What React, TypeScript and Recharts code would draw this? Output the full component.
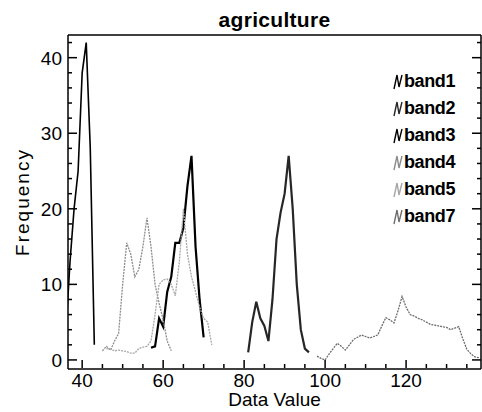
import { Legend, Line, LineChart, XAxis, YAxis } from 'recharts';

const bandNames = ['band1', 'band2', 'band3', 'band4', 'band5', 'band7'];
const bandColors = ['#000000', '#262626', '#000000', '#8c8c8c', '#a6a6a6', '#6e6e6e'];
const bandWidths = [1.6, 2.2, 2.2, 1.3, 1.3, 1.3];

const band1X = [36, 37, 38, 39, 40, 41, 42, 43];
const band1Y = [4, 13, 20, 25, 38, 42, 28, 2];

const band2X = [81, 82, 83, 84, 85, 86, 87, 88, 89, 90, 91, 92, 93, 94, 95, 96];
const band2Y = [1, 5, 7.7, 5.5, 4.5, 2.5, 8, 16, 19.5, 22, 27, 20, 10, 4, 1.5, 1];

const band3X = [57, 58, 59, 60, 61, 62, 63, 64, 65, 66, 67, 68, 69, 70];
const band3Y = [1.6, 1.8, 5.5, 4.4, 9, 11, 15.5, 15.5, 17.5, 23, 27, 15, 8, 3];

const band4X = [45, 46, 47, 48, 49, 50, 51, 52, 53, 54, 55, 56, 57, 58, 59, 60, 61, 62];
const band4Y = [1.2, 1.8, 1.3, 2.5, 3.5, 10, 15.5, 14, 11, 12, 15, 18.8, 15, 10, 7.5, 5.3, 2.5, 1.2];

const band5X = [46, 47, 48, 49, 50, 51, 52, 53, 54, 55, 56, 57, 58, 59, 60, 61, 62, 63, 64, 65, 66, 67, 68, 69, 70, 71, 72];
const band5Y = [1.5, 1.4, 1.2, 1.3, 1.2, 1.1, 0.9, 0.9, 1.5, 1.7, 1.8, 2.5, 6, 10, 10.6, 10.7, 10, 8.5, 13, 20, 14, 11, 9, 7, 5.5, 5, 2];

const band7X = [98, 99, 100, 101, 102, 103, 104, 105, 106, 107, 108, 109, 110, 111, 112, 113, 114, 115, 116, 117, 118, 119, 120, 121, 122, 123, 124, 125, 126, 127, 128, 129, 130, 131, 132, 133, 134, 135, 136, 137, 138];
const band7Y = [0.5, 0.2, 0, 0.8, 1.5, 2.2, 1.8, 1.3, 2, 2.7, 3, 3.3, 3.1, 2.9, 3.1, 3.3, 4.5, 5.6, 5.3, 4.9, 6.5, 8.4, 7, 6, 5.8, 5.5, 5.3, 5, 4.7, 4.6, 4.5, 4.4, 4.3, 4, 4.2, 4.4, 2.8, 1.4, 0.8, 0.4, 0.3];

const xTicks = [40, 45, 50, 55, 60, 65, 70, 75, 80, 85, 90, 95, 100, 105, 110, 115, 120, 125, 130, 135];
const yTicks = [0, 2, 4, 6, 8, 10, 12, 14, 16, 18, 20, 22, 24, 26, 28, 30, 32, 34, 36, 38, 40, 42];

const toPoints = (xs: number[], ys: number[]) => xs.map((x, i) => ({ x, y: ys[i] }));

const series = [
  toPoints(band1X, band1Y),
  toPoints(band2X, band2Y),
  toPoints(band3X, band3Y),
  toPoints(band4X, band4Y),
  toPoints(band5X, band5Y),
  toPoints(band7X, band7Y),
];

const font = "'Liberation Sans', Arial, sans-serif";

function BottomTick({ x, y, payload }: any) {
  const major = payload.value % 20 === 0;
  return (
    <g>
      <line x1={x} y1={y - 1} x2={x} y2={y - 1 - (major ? 8 : 4)} stroke="#000" strokeWidth={1.5} />
      {major && (
        <text x={x} y={y + 18} textAnchor="middle" fontFamily={font} fontSize={19} fill="#000">
          {payload.value}
        </text>
      )}
    </g>
  );
}

function TopTick({ x, payload }: any) {
  const major = payload.value % 20 === 0;
  return <line x1={x} y1={35} x2={x} y2={35 + (major ? 8 : 4)} stroke="#000" strokeWidth={1.5} />;
}

function LeftTick({ y, payload }: any) {
  const major = payload.value % 10 === 0;
  return (
    <g>
      <line x1={68} y1={y} x2={68 + (major ? 9 : 4)} y2={y} stroke="#000" strokeWidth={1.5} />
      {major && (
        <text x={62} y={y + 7} textAnchor="end" fontFamily={font} fontSize={19} fill="#000">
          {payload.value}
        </text>
      )}
    </g>
  );
}

function RightTick({ y, payload }: any) {
  const major = payload.value % 10 === 0;
  return <line x1={481} y1={y} x2={481 - (major ? 9 : 4)} y2={y} stroke="#000" strokeWidth={1.5} />;
}

function LegendIcon({ color }: { color: string }) {
  return (
    <svg width={10} height={16} style={{ display: 'block', marginRight: 1 }}>
      <path d="M1 15 L4 1 L6 13 L9 1" fill="none" stroke={color} strokeWidth={1.4} />
    </svg>
  );
}

function renderLegend() {
  return (
    <div style={{ fontFamily: font }}>
      {bandNames.map((name, i) => (
        <div key={name} style={{ display: 'flex', alignItems: 'center', height: 27 }}>
          <LegendIcon color={bandColors[i]} />
          <span style={{ fontWeight: 'bold', fontSize: 18, letterSpacing: -0.4, color: '#000' }}>{name}</span>
        </div>
      ))}
    </div>
  );
}

export default function App() {
  return (
    <div style={{ position: 'absolute', left: 0, top: 0, background: '#fff' }}>
      <LineChart width={482} height={412} margin={{ top: 34, right: 0, bottom: 42, left: 67 }}>
        <XAxis
          xAxisId="bottom"
          type="number"
          dataKey="x"
          domain={[36.5, 138.5]}
          allowDataOverflow
          ticks={xTicks}
          interval={0}
          height={1}
          tickSize={0}
          tickMargin={0}
          tick={<BottomTick />}
          axisLine={{ stroke: '#000', strokeWidth: 1.5 }}
          label={{
            value: 'Data Value',
            position: 'bottom',
            offset: 23,
            fill: '#000',
            style: { fontFamily: font, fontSize: 19, fill: '#000' },
          }}
        />
        <XAxis
          xAxisId="top"
          orientation="top"
          type="number"
          domain={[36.5, 138.5]}
          allowDataOverflow
          ticks={xTicks}
          interval={0}
          height={1}
          tickSize={0}
          tickMargin={0}
          tick={<TopTick />}
          axisLine={{ stroke: '#000', strokeWidth: 1.5 }}
          label={{
            value: 'agriculture',
            position: 'top',
            offset: 7,
            fill: '#000',
            style: { fontFamily: font, fontSize: 21, fontWeight: 'bold', letterSpacing: 0.3, fill: '#000' },
          }}
        />
        <YAxis
          yAxisId="left"
          type="number"
          domain={[-1.2, 43]}
          allowDataOverflow
          ticks={yTicks}
          interval={0}
          width={1}
          tickSize={0}
          tickMargin={0}
          tick={<LeftTick />}
          axisLine={{ stroke: '#000', strokeWidth: 1.5 }}
          label={{
            value: 'Frequency',
            angle: -90,
            position: 'left',
            offset: 45,
            fill: '#000',
            style: { fontFamily: font, fontSize: 19, letterSpacing: 2, textAnchor: 'middle', fill: '#000' },
          }}
        />
        <YAxis
          yAxisId="right"
          orientation="right"
          type="number"
          domain={[-1.2, 43]}
          allowDataOverflow
          ticks={yTicks}
          interval={0}
          width={1}
          tickSize={0}
          tickMargin={0}
          tick={<RightTick />}
          axisLine={{ stroke: '#000', strokeWidth: 1.5 }}
        />
        <Legend
          content={renderLegend}
          layout="vertical"
          verticalAlign="middle"
          align="center"
          wrapperStyle={{ left: 393, top: 68, width: 80 }}
        />
        {series.map((pts, i) => (
          <Line
            key={bandNames[i]}
            xAxisId="bottom"
            yAxisId="left"
            data={pts}
            dataKey="y"
            name={bandNames[i]}
            type="linear"
            stroke={bandColors[i]}
            strokeWidth={bandWidths[i]}
            strokeDasharray={i >= 3 ? '2 1' : undefined}
            dot={false}
            activeDot={false}
            isAnimationActive={false}
          />
        ))}
      </LineChart>
    </div>
  );
}
